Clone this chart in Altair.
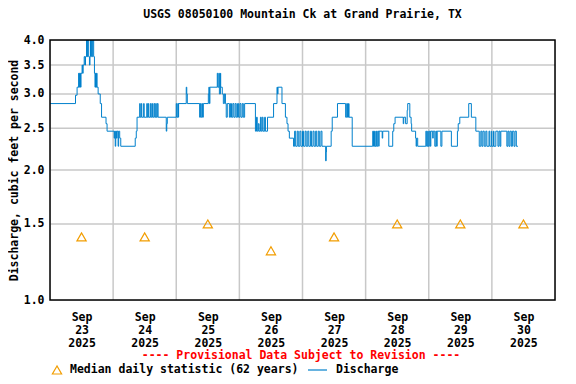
import altair as alt
import pandas as pd

# ---- data ----
# Discharge (cfs): step points, hours after 2025-09-23 00:00 local
disch_hours = [
    0.0, 9.7, 10.3, 10.9, 11.0, 11.2, 11.6, 11.8, 12.2, 12.4, 12.6, 13.0, 13.3, 13.5, 13.9, 14.1, 14.3, 14.7,
    15.0, 15.2, 15.4, 15.8, 16.2, 16.6, 16.9, 17.1, 17.3, 17.5, 17.7, 17.9, 18.3, 19.1, 19.6, 21.3, 21.7,
    24.4, 24.6, 24.8, 25.0, 25.3, 25.5, 25.9, 26.1, 26.5, 26.9, 32.4, 32.8, 33.1, 34.1, 34.3, 34.7, 34.9,
    35.6, 35.8, 36.8, 37.0, 37.3, 37.5, 38.1, 38.3, 38.7, 39.0, 39.5, 39.8, 40.2, 40.4, 40.8, 41.1,
    44.2, 44.4, 44.6, 48.0, 48.2, 48.6, 48.8, 48.9, 51.8, 52.0, 52.2,
    56.9, 57.1, 57.3, 57.7, 58.0, 58.3, 60.2, 60.4, 60.6, 60.8, 63.6, 63.8, 64.2, 64.4, 64.8, 64.9,
    65.5, 65.9, 66.3, 66.7, 67.0, 67.4,
    68.2, 68.6, 69.0, 69.5, 69.9, 70.4, 70.8, 71.3, 71.7, 72.2, 72.6, 73.1, 73.5, 74.0,
    78.1, 78.5, 78.8, 79.2, 79.5, 80.0, 80.3, 80.7, 81.0, 81.6, 81.9, 82.7,
    85.0, 86.3, 86.5, 86.7, 88.2, 89.5, 90.1, 90.5, 91.0,
    92.6, 93.0, 93.4, 94.0, 94.4, 95.0, 95.4, 96.0, 96.4, 97.0, 97.4, 98.0, 98.4,
    99.0, 99.4, 100.0, 100.4, 101.0, 101.4, 102.0, 102.4, 103.0, 103.4,
    104.8, 105.0, 105.1, 106.9, 107.3, 109.3, 112.4, 112.8, 113.1, 113.5, 113.7, 114.9,
    122.7, 123.0, 123.4, 123.6, 124.0, 124.2, 124.6, 125.0, 125.1, 126.3, 126.5, 128.8,
    130.3, 130.7, 131.2, 134.3, 134.5, 135.2, 135.8, 136.0, 136.8, 137.3, 137.5, 139.0, 139.2, 139.4, 139.8,
    142.9, 143.2, 143.6, 143.8, 144.2, 144.6, 144.8, 145.5, 145.7, 146.3, 146.7, 147.0, 147.2, 148.6, 149.0,
    152.6, 154.9, 155.2, 155.8, 159.2, 160.2, 161.9,
    163.2, 163.8, 164.2, 164.6, 165.1, 165.7, 166.1, 166.9, 167.2, 167.8, 168.0, 168.6, 168.8, 169.5,
    170.3, 170.7, 171.1, 171.4, 173.7, 174.1, 174.5, 174.9, 175.4, 175.8, 176.4, 176.8, 177.3, 177.9,
]
disch_cfs = [
    2.85, 2.98, 3.11, 3.35, 3.11, 3.35, 3.11, 3.35, 3.5, 3.35, 3.5, 3.66, 3.5, 3.66, 4.0, 3.66, 4.0, 3.66,
    3.5, 3.66, 4.0, 3.66, 4.0, 3.66, 3.35, 3.11, 3.35, 3.11, 3.35, 3.11, 3.0, 2.85, 2.65, 2.56, 2.46,
    2.37, 2.46, 2.27, 2.46, 2.37, 2.46, 2.27, 2.46, 2.37, 2.27, 2.37, 2.46, 2.65, 2.85, 2.65, 2.85, 2.65,
    2.85, 2.65, 2.85, 2.65, 2.85, 2.65, 2.85, 2.65, 2.85, 2.65, 2.85, 2.65, 2.85, 2.65, 2.85, 2.65,
    2.46, 2.56, 2.65, 2.85, 2.65, 2.85, 2.65, 2.85, 3.11, 3.0, 2.85,
    2.65, 2.85, 2.65, 2.85, 2.65, 2.85, 3.0, 3.11, 2.85, 3.11, 3.35, 3.11, 3.35, 3.0, 3.35, 3.11,
    3.0, 2.85, 3.0, 2.85, 2.65, 2.85,
    2.65, 2.85, 2.65, 2.85, 2.65, 2.85, 2.65, 2.85, 2.65, 2.85, 2.65, 2.85, 2.65, 2.85,
    2.46, 2.65, 2.46, 2.56, 2.46, 2.65, 2.46, 2.65, 2.46, 2.65, 2.46, 2.65,
    2.85, 3.11, 3.0, 3.11, 2.85, 2.65, 2.56, 2.46, 2.37,
    2.27, 2.46, 2.27, 2.46, 2.27, 2.46, 2.27, 2.46, 2.27, 2.46, 2.27, 2.46, 2.27,
    2.46, 2.27, 2.46, 2.27, 2.46, 2.27, 2.46, 2.27, 2.46, 2.27,
    2.1, 2.2, 2.27, 2.46, 2.65, 2.85, 2.65, 2.85, 2.65, 2.85, 2.65, 2.27,
    2.46, 2.27, 2.46, 2.27, 2.46, 2.27, 2.46, 2.27, 2.46, 2.37, 2.46, 2.27,
    2.46, 2.56, 2.65, 2.56, 2.65, 2.56, 2.75, 2.85, 2.65, 2.56, 2.46, 2.37, 2.27, 2.37, 2.27,
    2.46, 2.27, 2.46, 2.27, 2.46, 2.27, 2.46, 2.37, 2.46, 2.27, 2.46, 2.27, 2.46, 2.27, 2.46,
    2.27, 2.46, 2.56, 2.65, 2.85, 2.65, 2.46,
    2.27, 2.46, 2.27, 2.46, 2.27, 2.46, 2.27, 2.46, 2.27, 2.46, 2.27, 2.46, 2.27, 2.46,
    2.27, 2.46, 2.27, 2.46, 2.27, 2.46, 2.27, 2.46, 2.27, 2.46, 2.27, 2.46, 2.27, 2.27,
]

# Median daily statistic (62 years), at noon of each day
median_days = [23, 24, 25, 26, 27, 28, 29, 30]
median_cfs = [1.4, 1.4, 1.5, 1.3, 1.4, 1.5, 1.5, 1.5]

y_ticks = [1.0, 1.5, 2.0, 2.5, 3.0, 3.5, 4.0]
y_grid = [1.5, 2.0, 2.5, 3.0, 3.5]
grid_days = [24, 25, 26, 27, 28, 29, 30]

FONT = "DejaVu Sans Mono"
FS = 11.5
LINE_BLUE = "#0080cc"
ORANGE = "#f29d00"
GRID = "#c8c8c8"
W, H = 505, 260

start = pd.Timestamp("2025-09-23 00:00")
disch = pd.DataFrame({
    "t": [start + pd.Timedelta(hours=h) for h in disch_hours],
    "q": disch_cfs,
})
med = pd.DataFrame({
    "t": [pd.Timestamp(2025, 9, d, 12) for d in median_days],
    "q": median_cfs,
})
xgrid = pd.DataFrame({"t": [pd.Timestamp(2025, 9, d) for d in grid_days]})
ygrid = pd.DataFrame({"q": y_grid})

x_scale = alt.Scale(domain=[alt.DateTime(year=2025, month=9, date=23),
                            alt.DateTime(year=2025, month=10, date=1)])
y_scale = alt.Scale(type="log", domain=[1.0, 4.0], nice=False)

x_axis = alt.Axis(
    values=[alt.DateTime(year=2025, month=9, date=d, hours=12) for d in median_days],
    labelExpr="[timeFormat(datum.value, '%b'), timeFormat(datum.value, '%d'), timeFormat(datum.value, '%Y')]",
    grid=False, ticks=False, domain=False, title=None,
    labelFont=FONT, labelFontSize=FS, labelFontWeight="bold", labelColor="black",
    labelPadding=11, labelLineHeight=13, labelAngle=0,
)
y_axis = alt.Axis(
    values=y_ticks, format=".1f", grid=False,
    ticks=False, domain=False,
    title="Discharge, cubic feet per second",
    titleFont=FONT, titleFontSize=FS, titleFontWeight="bold", titleColor="black",
    titlePadding=4,
    labelFont=FONT, labelFontSize=FS, labelFontWeight="bold", labelColor="black",
    labelPadding=6,
)

xrules = alt.Chart(xgrid).mark_rule(color=GRID, strokeWidth=1.5).encode(
    x=alt.X("t:T", scale=x_scale, axis=x_axis),
)
yrules = alt.Chart(ygrid).mark_rule(color=GRID, strokeWidth=1.5).encode(
    y=alt.Y("q:Q", scale=y_scale, axis=y_axis),
)

line = alt.Chart(disch).mark_line(
    color=LINE_BLUE, strokeWidth=1, interpolate="step-after", clip=True
).encode(
    x=alt.X("t:T", scale=x_scale),
    y=alt.Y("q:Q", scale=y_scale),
)

pts = alt.Chart(med).mark_point(
    shape="triangle-up", filled=False, color=ORANGE, size=85, strokeWidth=1.2, opacity=1
).encode(
    x=alt.X("t:T", scale=x_scale),
    y=alt.Y("q:Q", scale=y_scale),
)

one = pd.DataFrame({"a": [0]})
frame = alt.Chart(one).mark_rect(
    fill=None, fillOpacity=0, stroke="black", strokeWidth=1.5
).encode(x=alt.value(0), x2=alt.value(W), y=alt.value(0), y2=alt.value(H))

prov = alt.Chart(one).mark_text(
    text="---- Provisional Data Subject to Revision ----", color="#ff0000",
    font=FONT, fontSize=FS, fontWeight="bold", align="center", baseline="middle"
).encode(x=alt.value(251), y=alt.value(316))

LEG_Y = 330
leg_tri = alt.Chart(one).mark_point(
    shape="triangle-up", filled=False, color=ORANGE, size=85, strokeWidth=1.2, opacity=1
).encode(x=alt.value(7), y=alt.value(LEG_Y))
leg_med = alt.Chart(one).mark_text(
    text="Median daily statistic (62 years)", color="black",
    font=FONT, fontSize=FS, fontWeight="bold", align="left", baseline="middle"
).encode(x=alt.value(20), y=alt.value(LEG_Y))
leg_line = alt.Chart(one).mark_rule(color=LINE_BLUE, strokeWidth=1.2).encode(
    x=alt.value(258), x2=alt.value(277), y=alt.value(LEG_Y)
)
leg_dis = alt.Chart(one).mark_text(
    text="Discharge", color="black",
    font=FONT, fontSize=FS, fontWeight="bold", align="left", baseline="middle"
).encode(x=alt.value(286), y=alt.value(LEG_Y))

chart = alt.layer(
    xrules, yrules, line, pts, frame, prov, leg_tri, leg_med, leg_line, leg_dis
).properties(
    width=W, height=H,
    autosize=alt.AutoSizeParams(type="none"),
    padding={"left": 42, "top": 32, "right": 13, "bottom": 76},
    title=alt.TitleParams(
        "USGS 08050100 Mountain Ck at Grand Prairie, TX",
        font=FONT, fontSize=FS, fontWeight="bold", color="black",
        anchor="middle", offset=14,
    ),
).configure_view(
    stroke=None
).configure(background="white")

chart.save("out.html", embed_options={"renderer": "svg", "actions": False})
